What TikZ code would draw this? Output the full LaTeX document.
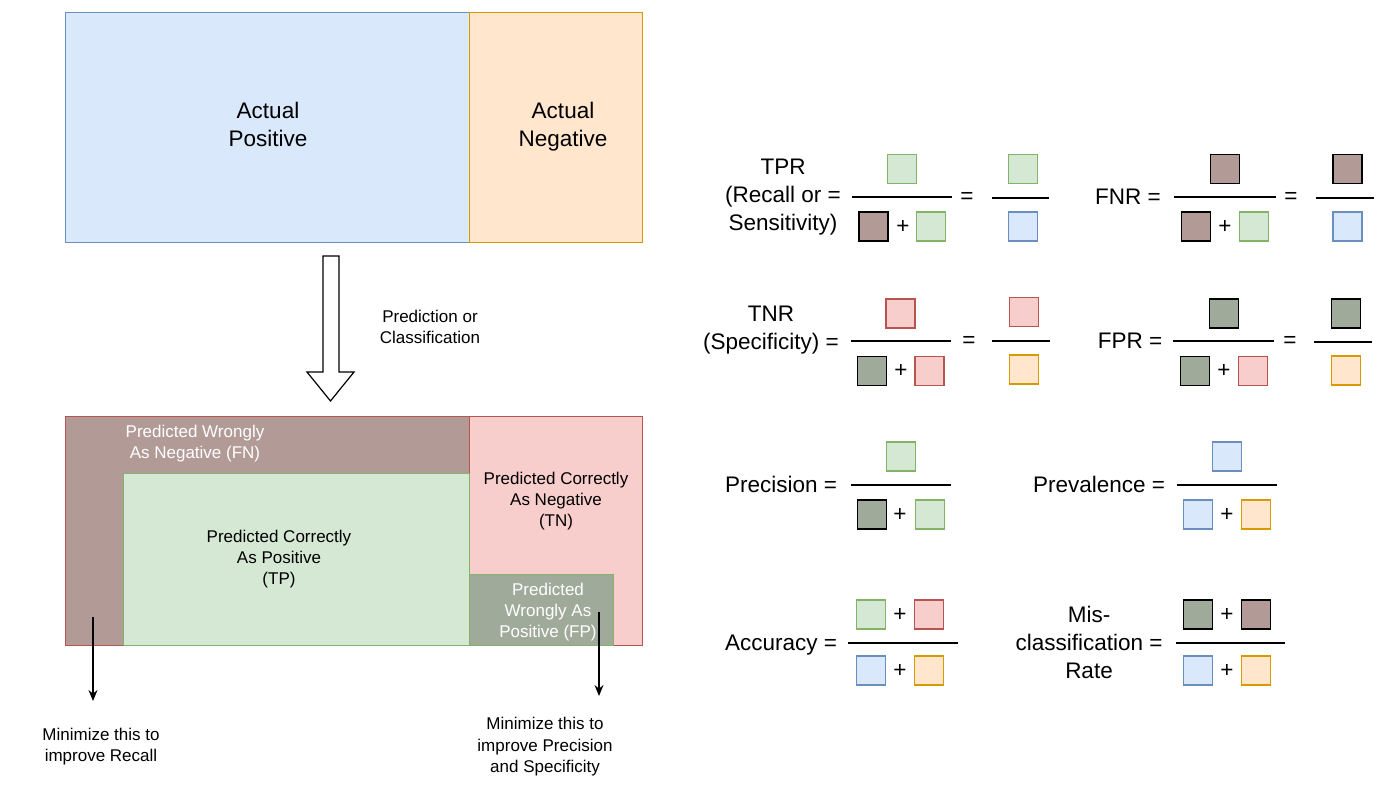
\documentclass[tikz,border=0pt]{standalone}
\usepackage{fontspec}
\setmainfont{Liberation Sans}
\usetikzlibrary{arrows.meta}

\definecolor{posfill}{HTML}{DAE8FC}
\definecolor{posline}{HTML}{6C8EBF}
\definecolor{negfill}{HTML}{FFE6CC}
\definecolor{negline}{HTML}{D79B00}
\definecolor{tpfill}{HTML}{D5E8D4}
\definecolor{tpline}{HTML}{82B366}
\definecolor{tnfill}{HTML}{F8CECC}
\definecolor{tnline}{HTML}{B85450}
\definecolor{fnfill}{HTML}{B29A96}
\definecolor{fpfill}{HTML}{A0AA9B}

\tikzset{
	cell/.style={shape=rectangle, draw, line width=1pt, inner sep=0pt},
	sq/.style={cell, minimum width=29pt, minimum height=29pt, line width=1.2pt},
	posbox/.style={fill=posfill, draw=posline},
	negbox/.style={fill=negfill, draw=negline},
	tpbox/.style={fill=tpfill, draw=tpline},
	tnbox/.style={fill=tnfill, draw=tnline},
	fnbox/.style={fill=fnfill, draw=black},
	fpbox/.style={fill=fpfill, draw=black},
	bigtext/.style={font=\fontsize{22.5}{28}\selectfont, align=center, inner sep=0pt},
	smalltext/.style={font=\fontsize{17}{21}\selectfont, align=center, inner sep=0pt},
	fracbar/.style={line width=1.2pt},
	note/.style={line width=1.3pt, -{Stealth[length=11pt, width=9pt]}},
}

\begin{document}
\begin{tikzpicture}[x=1pt, y=-1pt]
		\useasboundingbox (0,0) rectangle (1396,790);
		% Actual classes:
		\node[cell, posbox, minimum width=404pt, minimum height=230pt] (actpos) at (267,127){};
		\node[cell, negbox, minimum width=173pt, minimum height=230pt] (actneg) at (555.5,127){};
		\node[bigtext] (actpos-text) at (268,124){Actual\\Positive};
		\node[bigtext] (actneg-text) at (563,127){Actual\\Negative};
		% Prediction arrow:
		\draw[line width=1.2pt, fill=white] (323,256) -- (339,256) -- (339,372) -- (354,372) -- (330.5,401) -- (307,372) -- (323,372) -- cycle;
		\node[smalltext] (predict-text) at (430,327){Prediction or\\Classification};
		% Predicted classes:
		\node[cell, fill=fnfill, draw=tnline, minimum width=404pt, minimum height=229pt] (fn-box) at (267,530.5){};
		\node[cell, tnbox, minimum width=173pt, minimum height=229pt] (tn-box) at (555.5,530.5){};
		\node[cell, tpbox, minimum width=346pt, minimum height=172pt] (tp-box) at (296,559){};
		\node[cell, fill=fpfill, draw=tpline, minimum width=144pt, minimum height=71pt] (fp-box) at (541,609.5){};
		\node[smalltext, text=white] (fn-text) at (195,444){Predicted Wrongly\\As Negative (FN)};
		\node[smalltext] (tp-text) at (279,559.5){Predicted Correctly\\As Positive\\(TP)};
		\node[smalltext] (tn-text) at (556,501){Predicted Correctly\\As Negative\\(TN)};
		\node[smalltext, text=white] (fp-text) at (548,612){Predicted\\Wrongly As\\Positive (FP)};
		% Notes:
		\coordinate (fn-from) at (93,617);
		\coordinate (fn-to) at (93,701);
		\coordinate (fp-from) at (599,612);
		\coordinate (fp-to) at (599,696);
		\draw[note] (fn-from) -- (fn-to);
		\draw[note] (fp-from) -- (fp-to);
		\node[smalltext] (recall-note) at (101,747){Minimize this to\\improve Recall};
		\node[smalltext, font=\fontsize{17}{21.5}\selectfont] (precision-note) at (545,747){Minimize this to\\improve Precision\\and Specificity};
		% TPR:
		\node[bigtext] (tpr-label) at (783,197.5){TPR\\(Recall or =\\Sensitivity)};
		\node[sq, tpbox] (tpr-num) at (902,169){};
		\draw[fracbar] (852,197) -- (952,197);
		\node[sq, fnbox] (tpr-den-fn) at (873.5,226.5){};
		\node[bigtext] (tpr-plus) at (903,227){+};
		\node[sq, tpbox] (tpr-den-tp) at (931,226.5){};
		\node[bigtext] (tpr-eq) at (967,198){=};
		\node[sq, tpbox] (tpr-num2) at (1023,169){};
		\draw[fracbar] (992,198) -- (1049,198);
		\node[sq, posbox] (tpr-den2) at (1023,226.5){};
		% FNR:
		\node[bigtext] (fnr-label) at (1128,197){FNR =};
		\node[sq, fnbox] (fnr-num) at (1225,169){};
		\draw[fracbar] (1174,197) -- (1276,197);
		\node[sq, fnbox] (fnr-den-fn) at (1196,226.5){};
		\node[bigtext] (fnr-plus) at (1225,227){+};
		\node[sq, tpbox] (fnr-den-tp) at (1254,226.5){};
		\node[bigtext] (fnr-eq) at (1291,198){=};
		\node[sq, fnbox] (fnr-num2) at (1347.5,169){};
		\draw[fracbar] (1316,198) -- (1374,198);
		\node[sq, posbox] (fnr-den2) at (1347.5,226.5){};
		% TNR:
		\node[bigtext] (tnr-label) at (771,330){TNR\\(Specificity) =};
		\node[sq, tnbox] (tnr-num) at (900.5,313.5){};
		\draw[fracbar] (851,341) -- (951,341);
		\node[sq, fpbox] (tnr-den-fp) at (872,371){};
		\node[bigtext] (tnr-plus) at (901,371){+};
		\node[sq, tnbox] (tnr-den-tn) at (929.5,371){};
		\node[bigtext] (tnr-eq) at (969,342){=};
		\node[sq, tnbox] (tnr-num2) at (1024,312){};
		\draw[fracbar] (992,341) -- (1050,341);
		\node[sq, negbox] (tnr-den2) at (1024,369.5){};
		% FPR:
		\node[bigtext] (fpr-label) at (1130,341){FPR =};
		\node[sq, fpbox] (fpr-num) at (1224,313.5){};
		\draw[fracbar] (1173,341) -- (1274,341);
		\node[sq, fpbox] (fpr-den-fp) at (1195,371){};
		\node[bigtext] (fpr-plus) at (1224,371){+};
		\node[sq, tnbox] (fpr-den-tn) at (1253,371){};
		\node[bigtext] (fpr-eq) at (1290,342){=};
		\node[sq, fpbox] (fpr-num2) at (1346,313.5){};
		\draw[fracbar] (1314,342) -- (1372,342);
		\node[sq, negbox] (fpr-den2) at (1346,370.5){};
		% Precision:
		\node[bigtext] (prec-label) at (781,484){Precision =};
		\node[sq, tpbox] (prec-num) at (901,456.5){};
		\draw[fracbar] (851,485) -- (951,485);
		\node[sq, fpbox] (prec-den-fp) at (872,514.5){};
		\node[bigtext] (prec-plus) at (900,515){+};
		\node[sq, tpbox] (prec-den-tp) at (930,514.5){};
		% Prevalence:
		\node[bigtext] (prev-label) at (1099,484){Prevalence =};
		\node[sq, posbox] (prev-num) at (1227,456.5){};
		\draw[fracbar] (1177,485) -- (1277,485);
		\node[sq, posbox] (prev-den-pos) at (1198,514.5){};
		\node[bigtext] (prev-plus) at (1227,515){+};
		\node[sq, negbox] (prev-den-neg) at (1256,514.5){};
		% Accuracy:
		\node[bigtext] (acc-label) at (781,645.5){Accuracy =};
		\node[sq, tpbox] (acc-num-tp) at (871,614.5){};
		\node[bigtext] (acc-plus) at (900,615){+};
		\node[sq, tnbox] (acc-num-tn) at (929,614.5){};
		\draw[fracbar] (848,643) -- (958,643);
		\node[sq, posbox] (acc-den-pos) at (871,670.5){};
		\node[bigtext] (acc-plus2) at (900,671){+};
		\node[sq, negbox] (acc-den-neg) at (929,670.5){};
		% Misclassification rate:
		\node[bigtext] (mis-label) at (1089,642){Mis-\\classification =\\Rate};
		\node[sq, fpbox] (mis-num-fp) at (1198,614.5){};
		\node[bigtext] (mis-plus) at (1227,615){+};
		\node[sq, fnbox] (mis-num-fn) at (1256,614.5){};
		\draw[fracbar] (1176,643) -- (1285,643);
		\node[sq, posbox] (mis-den-pos) at (1198,670.5){};
		\node[bigtext] (mis-plus2) at (1227,671){+};
		\node[sq, negbox] (mis-den-neg) at (1256,670.5){};
	\end{tikzpicture}
\end{document}
